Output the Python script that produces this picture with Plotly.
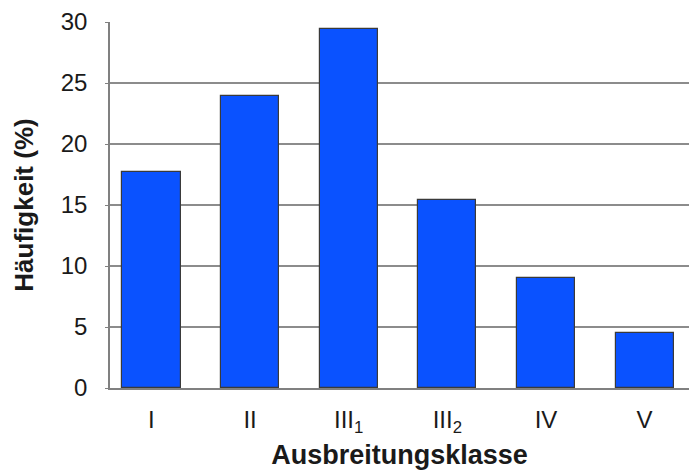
import plotly.graph_objects as go

categories = ["I", "II", "III<sub>1</sub>", "III<sub>2</sub>", "IV", "V"]
values = [17.7, 23.9, 29.4, 15.4, 9.0, 4.5]
y_ticks = [0, 5, 10, 15, 20, 25, 30]

fig = go.Figure(go.Bar(
    x=list(range(len(categories))),
    y=values,
    width=0.59,
    marker=dict(color="#0a52ff", line=dict(color="#3a3a3a", width=1.2)),
))

font = "Liberation Sans, Arial, sans-serif"
fig.update_layout(
    width=689, height=470,
    margin=dict(l=110, r=0, t=22, b=82),
    plot_bgcolor="white", paper_bgcolor="white",
    showlegend=False,
    font=dict(family=font, size=24, color="#1a1a1a"),
    bargap=0,
)
fig.update_xaxes(
    range=[-0.42, 5.45],
    tickvals=list(range(len(categories))),
    ticktext=categories,
    showgrid=False,
    showline=True, linecolor="#808080", linewidth=1.5,
    ticks="", ticklabelstandoff=9,
    tickfont=dict(size=24),
    title=dict(text="<b>Ausbreitungsklasse</b>", font=dict(size=27), standoff=11),
    zeroline=False,
    automargin=False,
)
fig.update_yaxes(
    range=[0, 30],
    tickvals=y_ticks,
    showgrid=True, gridcolor="#8c8c8c", gridwidth=1.5,
    showline=True, linecolor="#808080", linewidth=1.5,
    ticks="outside", ticklen=3, tickcolor="#808080",
    ticklabelstandoff=13,
    tickfont=dict(size=24),
    title=dict(text="<b>Häufigkeit (%)</b>", font=dict(size=26), standoff=20),
    zeroline=False,
    automargin=False,
)
fig.write_html(
    "out.html",
    config={"displayModeBar": False},
    post_script="document.body.style.margin='0';document.body.style.padding='0';",
)
